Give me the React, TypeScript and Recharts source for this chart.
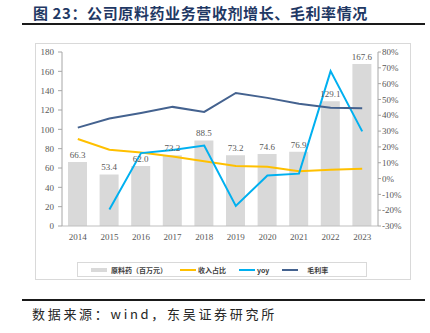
import React from 'react';
import { ComposedChart, Bar, Line, XAxis, YAxis, LabelList, Legend } from 'recharts';

const years = ['2014', '2015', '2016', '2017', '2018', '2019', '2020', '2021', '2022', '2023'];
const apiRevenue = [66.3, 53.4, 62.0, 73.2, 88.5, 73.2, 74.6, 76.9, 129.1, 167.6];
const revenueShare = [25.0, 18.2, 16.5, 14.0, 11.0, 7.9, 7.5, 4.6, 5.6, 6.2];
const yoy = [null, -19.5, 16.1, 18.1, 20.9, -17.3, 1.9, 3.1, 67.9, 29.8];
const grossMargin = [32.2, 38.0, 41.5, 45.3, 42.1, 54.1, 51.0, 47.3, 44.8, 44.4];
const leftTicks = [0, 20, 40, 60, 80, 100, 120, 140, 160, 180];
const rightTicks = [-30, -20, -10, 0, 10, 20, 30, 40, 50, 60, 70, 80];

const data = years.map((year, i) => ({
  year,
  api: apiRevenue[i],
  share: revenueShare[i],
  yoy: yoy[i],
  margin: grossMargin[i],
}));

const serif = '"Liberation Serif", "Times New Roman", serif';
const cjk = '"Noto Sans CJK SC", sans-serif';
const tickStyle = { fontSize: 9, fill: '#595959', fontFamily: serif };

const legendItems = [
  { label: '原料药（百万元）', color: '#d9d9d9', thick: 4, gap: 4 },
  { label: '收入占比', color: '#ffc000', thick: 2, gap: 2 },
  { label: 'yoy', color: '#00b0f0', thick: 2, gap: 2 },
  { label: '毛利率', color: '#44628f', thick: 2, gap: 9 },
];

const LegendBox = () => (
  <div
    style={{
      boxSizing: 'border-box',
      width: 290,
      height: 15,
      border: '1px solid #d9d9d9',
      display: 'flex',
      alignItems: 'center',
      paddingLeft: 13,
      fontFamily: cjk,
      fontSize: 7,
      fontWeight: 700,
      color: '#404040',
    }}
  >
    {legendItems.map((it) => (
      <div key={it.label} style={{ display: 'flex', alignItems: 'center', marginRight: 13 }}>
        <span style={{ display: 'inline-block', width: 16, height: it.thick, background: it.color, marginRight: it.gap }} />
        <span>{it.label}</span>
      </div>
    ))}
  </div>
);

export default function App() {
  return (
    <div style={{ position: 'absolute', left: 0, top: 0, width: 430, height: 333, background: '#fff', overflow: 'hidden' }}>
      <div
        style={{
          position: 'absolute',
          left: 33,
          top: 2,
          fontFamily: cjk,
          fontWeight: 700,
          fontSize: 15,
          letterSpacing: 0.6,
          color: '#1f3864',
          whiteSpace: 'nowrap',
        }}
      >
        图 23：公司原料药业务营收剂增长、毛利率情况
      </div>
      <div style={{ position: 'absolute', left: 22, top: 23, width: 403, height: 2, background: '#1a1a1a' }} />
      <div
        style={{
          position: 'absolute',
          left: 35,
          top: 43,
          width: 376,
          height: 237,
          boxSizing: 'border-box',
          border: '1px solid #d9d9d9',
        }}
      />
      <div style={{ position: 'absolute', left: 0, top: 0 }}>
        <ComposedChart width={430} height={333} data={data} margin={{ top: 52, right: 12, bottom: 72, left: 32 }}>
          <XAxis
            dataKey="year"
            height={20}
            tick={tickStyle}
            tickLine={false}
            axisLine={{ stroke: '#bfbfbf' }}
            interval={0}
          />
          <YAxis
            yAxisId="left"
            width={30}
            domain={[0, 180]}
            ticks={leftTicks}
            tick={tickStyle}
            tickSize={4}
            tickMargin={4}
            tickLine={{ stroke: '#a6a6a6' }}
            axisLine={{ stroke: '#a6a6a6' }}
          />
          <YAxis
            yAxisId="right"
            orientation="right"
            width={40}
            domain={[-30, 80]}
            ticks={rightTicks}
            tickFormatter={(v: number) => `${v}%`}
            tick={tickStyle}
            tickSize={3}
            tickMargin={1}
            tickLine={{ stroke: '#a6a6a6' }}
            axisLine={{ stroke: '#a6a6a6' }}
          />
          <Legend
            verticalAlign="bottom"
            wrapperStyle={{ position: 'absolute', left: 77, top: 262, width: 290, bottom: 'auto' }}
            content={() => <LegendBox />}
          />
          <Bar yAxisId="left" dataKey="api" fill="#d9d9d9" barSize={19} isAnimationActive={false}>
            <LabelList dataKey="api" position="top" offset={4} formatter={(v: number) => v.toFixed(1)} style={{ fontSize: 9, fill: '#595959', fontFamily: serif }} />
          </Bar>
          <Line yAxisId="right" dataKey="share" stroke="#ffc000" strokeWidth={2} dot={false} type="linear" isAnimationActive={false} />
          <Line yAxisId="right" dataKey="yoy" stroke="#00b0f0" strokeWidth={2} dot={false} type="linear" isAnimationActive={false} />
          <Line yAxisId="right" dataKey="margin" stroke="#44628f" strokeWidth={2} dot={false} type="linear" isAnimationActive={false} />
        </ComposedChart>
      </div>
      <div style={{ position: 'absolute', left: 22, top: 299, width: 403, height: 2, background: '#1a1a1a' }} />
      <div
        style={{
          position: 'absolute',
          left: 32,
          top: 304,
          fontFamily: cjk,
          fontSize: 13,
          letterSpacing: 2.7,
          color: '#262626',
          whiteSpace: 'nowrap',
        }}
      >
        数据来源：wind，东吴证券研究所
      </div>
    </div>
  );
}
